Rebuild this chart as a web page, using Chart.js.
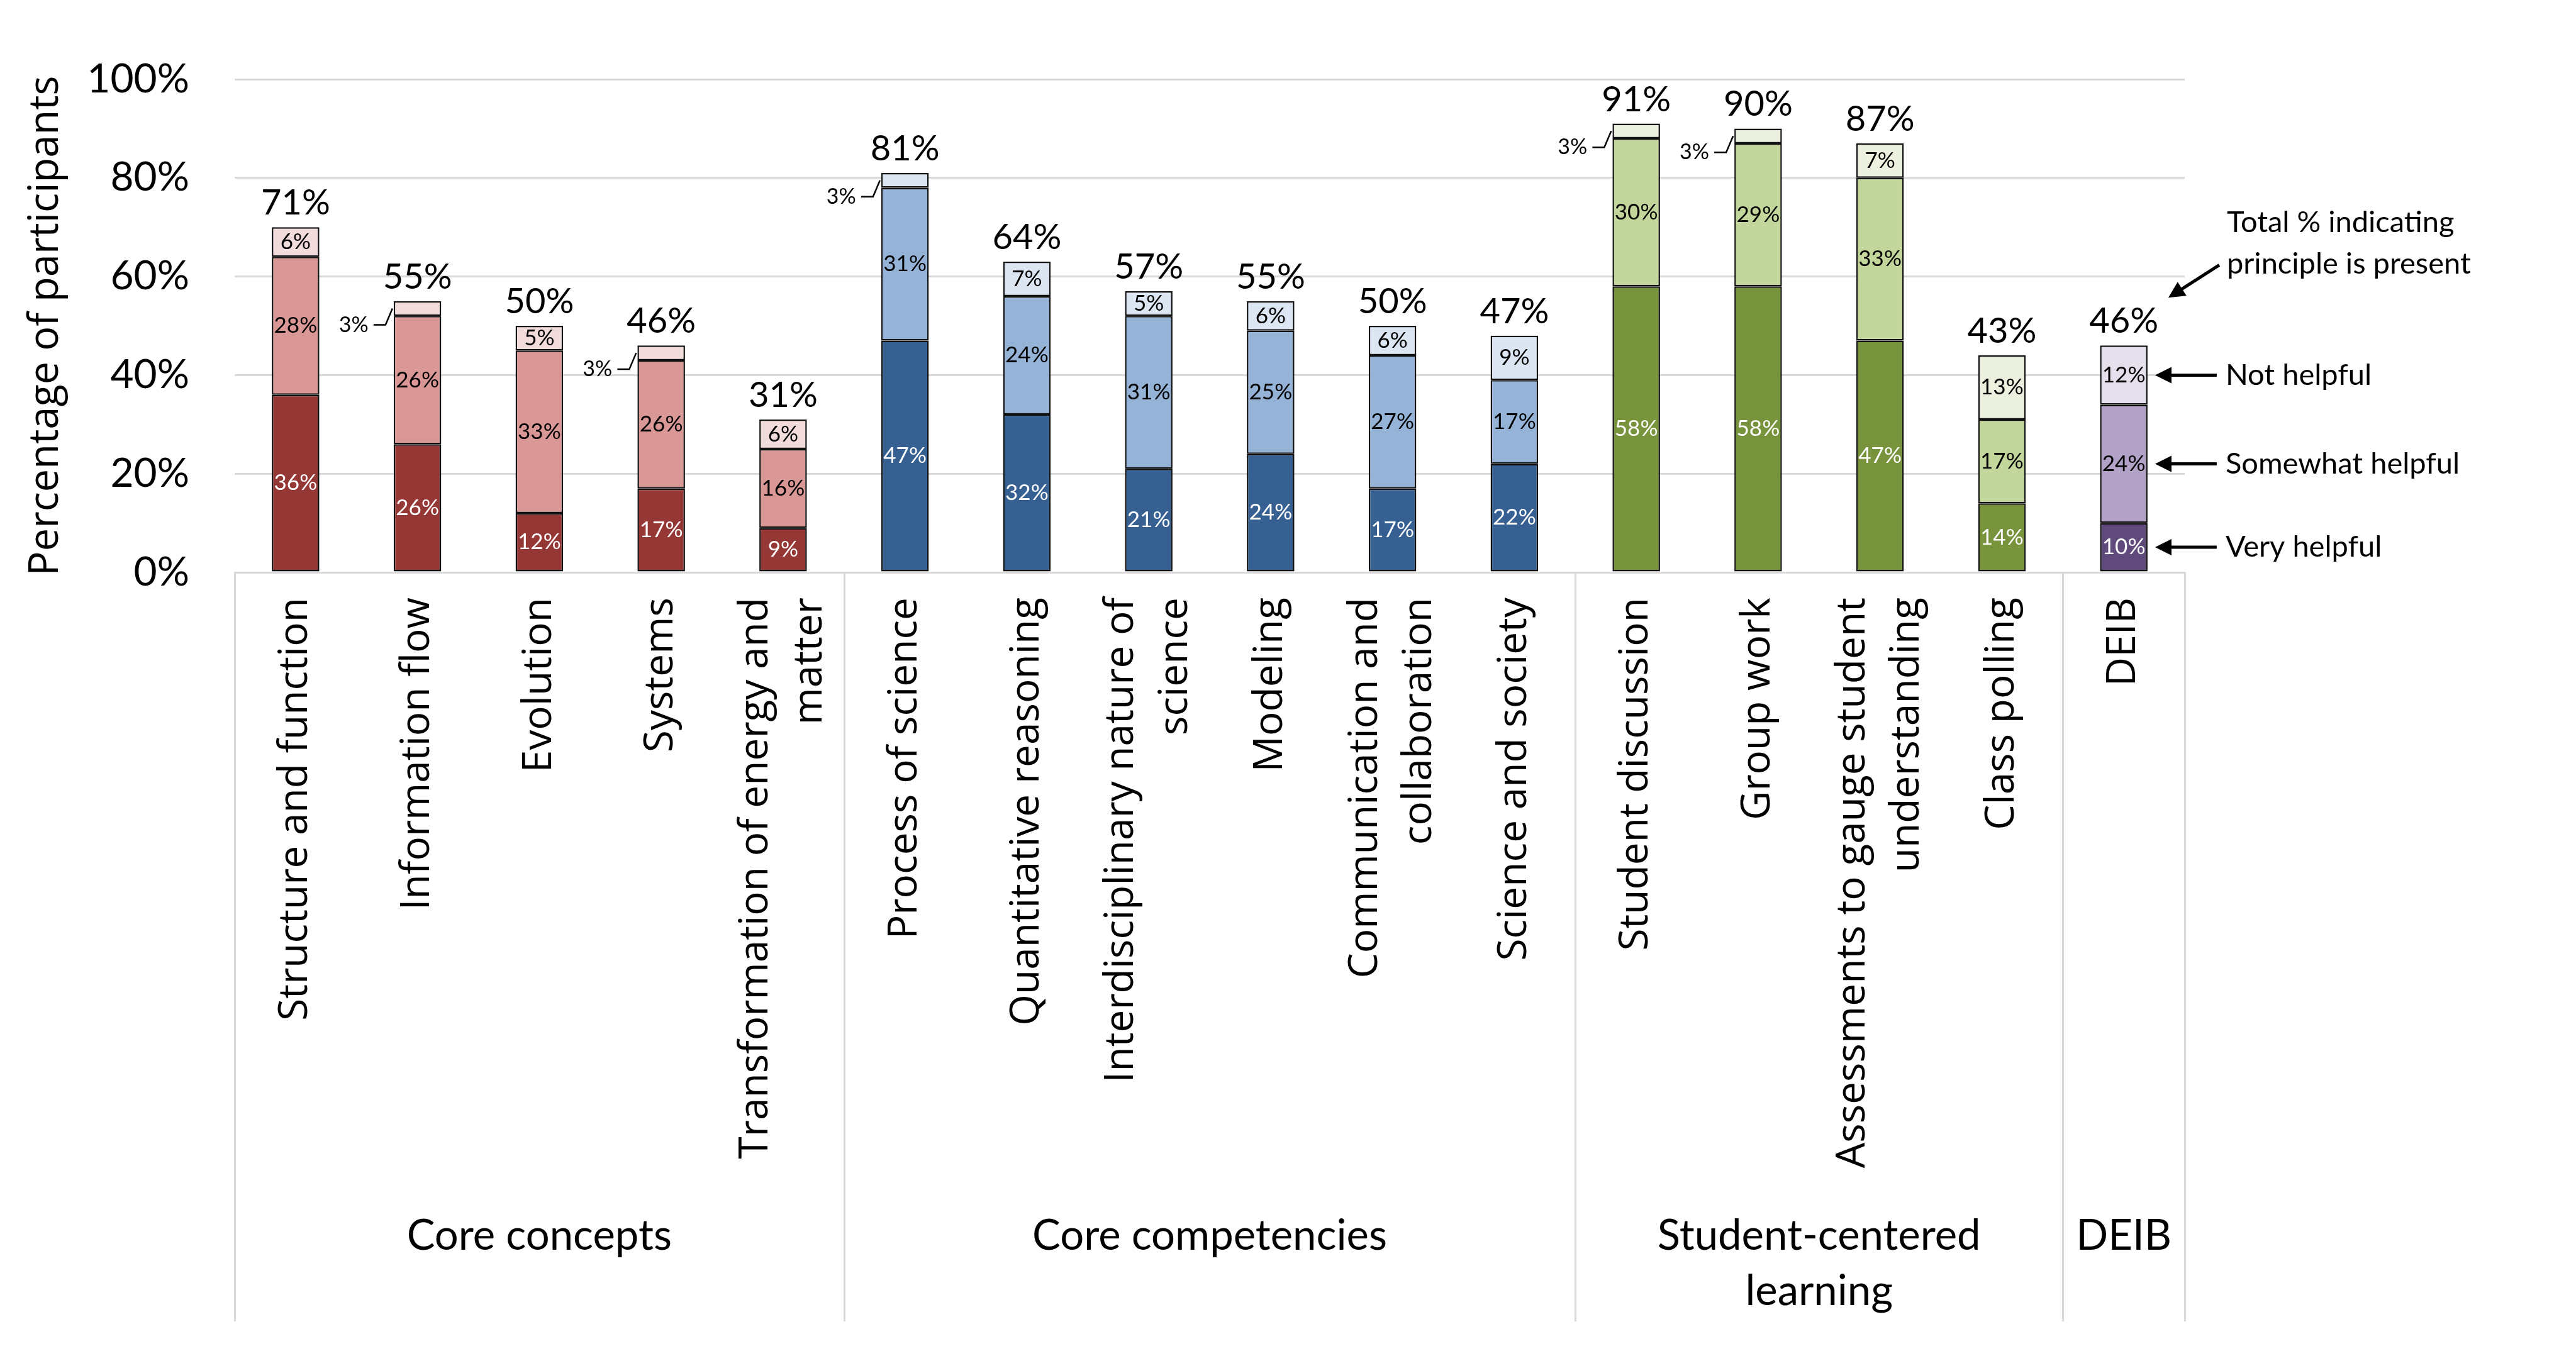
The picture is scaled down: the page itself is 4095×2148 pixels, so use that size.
<!DOCTYPE html>
<html>
<head>
<meta charset="utf-8">
<script src="https://cdn.jsdelivr.net/npm/chart.js@4/dist/chart.umd.min.js"></script>
<style>
  html, body { margin: 0; padding: 0; background: #fff; }
  #wrap { width: 4095px; height: 2148px; position: relative; }
</style>
</head>
<body>
<div id="wrap"><canvas id="chart"></canvas></div>
<script>
// categories, grouped left to right
const categories = [
    ['Structure and function'], ['Information flow'], ['Evolution'], ['Systems'],
    ['Transformation of energy and', 'matter'],
    ['Process of science'], ['Quantitative reasoning'], ['Interdisciplinary nature of', 'science'],
    ['Modeling'], ['Communication and', 'collaboration'], ['Science and society'],
    ['Student discussion'], ['Group work'], ['Assessments to gauge student', 'understanding'],
    ['Class polling'],
    ['DEIB']
];
const groupNames = [['Core concepts'], ['Core competencies'], ['Student-centered', 'learning'], ['DEIB']];
const groupSizes = [5, 6, 4, 1];

const veryHelpful     = [36, 26, 12, 17, 9, 47, 32, 21, 24, 17, 22, 58, 58, 47, 14, 10];
const somewhatHelpful = [28, 26, 33, 26, 16, 31, 24, 31, 25, 27, 17, 30, 29, 33, 17, 24];
const notHelpful      = [6, 3, 5, 3, 6, 3, 7, 5, 6, 6, 9, 3, 3, 7, 13, 12];
const totalPresent    = [71, 55, 50, 46, 31, 81, 64, 57, 55, 50, 47, 91, 90, 87, 43, 46];

const yTicks = [0, 20, 40, 60, 80, 100];
const legendNotes = ['Very helpful', 'Somewhat helpful', 'Not helpful'];
const totalNote = ['Total % indicating', 'principle is present'];

// colours per group: [dark, mid, light]
const palette = [
    ['#953735', '#D99795', '#F2DCDB'],
    ['#376092', '#95B3D7', '#DCE6F2'],
    ['#77933C', '#C3D69B', '#EBF1DE'],
    ['#604A7B', '#B3A2C7', '#E6E0EC']
];

const groupOf = [];
groupSizes.forEach((n, g) => { for (let k = 0; k < n; k++) groupOf.push(g); });
const shade = s => groupOf.map(g => palette[g][s]);

const NARROW = 'Lato, "Liberation Sans", sans-serif';
const WIDE = '"Open Sans", "Noto Sans", sans-serif';

function arrow(ctx, x1, y1, x2, y2) {
    const a = Math.atan2(y2 - y1, x2 - x1);
    const hl = 26, hw = 13;
    ctx.beginPath();
    ctx.moveTo(x1, y1);
    ctx.lineTo(x2 - Math.cos(a) * hl * 0.8, y2 - Math.sin(a) * hl * 0.8);
    ctx.stroke();
    ctx.beginPath();
    ctx.moveTo(x2, y2);
    ctx.lineTo(x2 - Math.cos(a) * hl + Math.sin(a) * hw, y2 - Math.sin(a) * hl - Math.cos(a) * hw);
    ctx.lineTo(x2 - Math.cos(a) * hl - Math.sin(a) * hw, y2 - Math.sin(a) * hl + Math.cos(a) * hw);
    ctx.closePath();
    ctx.fill();
}

// Segment values, leader lines, totals and notes
const labelPlugin = {
    id: 'labels',
    afterDatasetsDraw(chart) {
        const ctx = chart.ctx;
        ctx.save();
        chart.data.datasets.forEach((ds, di) => {
            const meta = chart.getDatasetMeta(di);
            meta.data.forEach((bar, i) => {
                const v = ds.data[i];
                const p = bar.getProps(['x', 'y', 'base', 'width'], true);
                const cy = (p.y + p.base) / 2;
                if (v <= 3) {
                    const left = p.x - p.width / 2;
                    const ly = cy + 26;
                    ctx.strokeStyle = '#000';
                    ctx.lineWidth = 2.5;
                    ctx.beginPath();
                    ctx.moveTo(left - 32, ly);
                    ctx.lineTo(left - 13, ly);
                    ctx.lineTo(left - 2, cy);
                    ctx.stroke();
                    ctx.fillStyle = '#000';
                    ctx.font = '34px ' + NARROW;
                    ctx.textAlign = 'right';
                    ctx.textBaseline = 'middle';
                    ctx.fillText(v + '%', left - 40, ly);
                } else {
                    ctx.fillStyle = di === 0 ? '#fff' : '#000';
                    ctx.font = '35px ' + NARROW;
                    ctx.textAlign = 'center';
                    ctx.textBaseline = 'middle';
                    ctx.fillText(v + '%', p.x, cy);
                }
            });
        });

        const topMeta = chart.getDatasetMeta(2);
        ctx.fillStyle = '#000';
        ctx.font = '56px ' + NARROW;
        ctx.textAlign = 'center';
        ctx.textBaseline = 'middle';
        topMeta.data.forEach((bar, i) => {
            ctx.fillText(totalPresent[i] + '%', bar.x, bar.y - 38);
        });

        // notes next to the last bar
        const last = categories.length - 1;
        ctx.strokeStyle = '#000';
        ctx.fillStyle = '#000';
        ctx.lineWidth = 5;
        ctx.font = '47px ' + NARROW;
        ctx.textAlign = 'left';
        chart.data.datasets.forEach((ds, di) => {
            const b = chart.getDatasetMeta(di).data[last];
            const right = b.x + b.width / 2;
            const cy = (b.y + b.base) / 2;
            arrow(ctx, right + 110, cy, right + 12, cy);
            ctx.fillText(legendNotes[di], right + 124, cy);
        });
        const tb = topMeta.data[last];
        const tr = tb.x + tb.width / 2;
        const ty = tb.y - 38;
        arrow(ctx, tr + 114, ty - 90, tr + 33, ty - 38);
        ctx.fillText(totalNote[0], tr + 126, ty - 158);
        ctx.fillText(totalNote[1], tr + 126, ty - 92);
        ctx.restore();
    }
};

// Category names (rotated), group separators and group names below the axis
const groupPlugin = {
    id: 'groups',
    afterDraw(chart) {
        const x = chart.scales.x;
        const ctx = chart.ctx;
        const half = (x.getPixelForValue(1) - x.getPixelForValue(0)) / 2;
        const edge = k => x.getPixelForValue(k) - half;
        ctx.save();

        ctx.fillStyle = '#000';
        ctx.font = '64px ' + WIDE;
        ctx.textAlign = 'right';
        ctx.textBaseline = 'middle';
        const lh = 86;
        categories.forEach((lines, i) => {
            ctx.save();
            ctx.translate(x.getPixelForValue(i), x.top + 40);
            ctx.rotate(-Math.PI / 2);
            lines.forEach((t, j) => ctx.fillText(t, 0, (j - (lines.length - 1) / 2) * lh));
            ctx.restore();
        });

        ctx.strokeStyle = '#D9D9D9';
        ctx.lineWidth = 3;
        let start = 0;
        const bounds = [0];
        groupSizes.forEach(n => { start += n; bounds.push(start); });
        bounds.forEach(k => {
            const px = Math.round(edge(k)) + 0.5;
            ctx.beginPath();
            ctx.moveTo(px, x.top);
            ctx.lineTo(px, x.bottom);
            ctx.stroke();
        });
        ctx.font = '67px ' + NARROW;
        ctx.textAlign = 'center';
        groupNames.forEach((lines, g) => {
            const cx = (edge(bounds[g]) + edge(bounds[g + 1])) / 2;
            lines.forEach((t, j) => ctx.fillText(t, cx, x.bottom - 136 + j * 88));
        });
        ctx.restore();
    }
};

new Chart(document.getElementById('chart'), {
    type: 'bar',
    data: {
        labels: categories,
        datasets: [
            { label: 'Very helpful', data: veryHelpful, backgroundColor: shade(0) },
            { label: 'Somewhat helpful', data: somewhatHelpful, backgroundColor: shade(1) },
            { label: 'Not helpful', data: notHelpful, backgroundColor: shade(2) }
        ].map(d => Object.assign(d, {
            borderColor: '#111',
            borderWidth: 2.5,
            borderSkipped: false,
            categoryPercentage: 1,
            barPercentage: 0.39
        }))
    },
    options: {
        responsive: true,
        maintainAspectRatio: false,
        devicePixelRatio: 1,
        animation: false,
        layout: { padding: { left: 0, top: 126, right: 622, bottom: 47 } },
        plugins: { legend: { display: false }, tooltip: { enabled: false } },
        scales: {
            x: {
                stacked: true,
                grid: { display: false },
                border: { display: true, color: '#D9D9D9', width: 3 },
                ticks: { display: false },
                afterFit(scale) { scale.height = 1191; }
            },
            y: {
                stacked: true,
                min: 0,
                max: 100,
                afterBuildTicks(scale) { scale.ticks = yTicks.map(v => ({ value: v })); },
                grid: { color: '#D9D9D9', lineWidth: 3, drawTicks: false },
                border: { display: false },
                ticks: {
                    padding: 72,
                    color: '#000',
                    font: { family: NARROW, size: 64 },
                    callback: v => v + '%'
                },
                title: {
                    display: true,
                    text: 'Percentage of participants',
                    color: '#000',
                    font: { family: WIDE, size: 65 },
                    padding: { top: 34, bottom: 0 }
                },
                afterFit(scale) { scale.width = 373; }
            }
        }
    },
    plugins: [labelPlugin, groupPlugin]
});
</script>
</body>
</html>
